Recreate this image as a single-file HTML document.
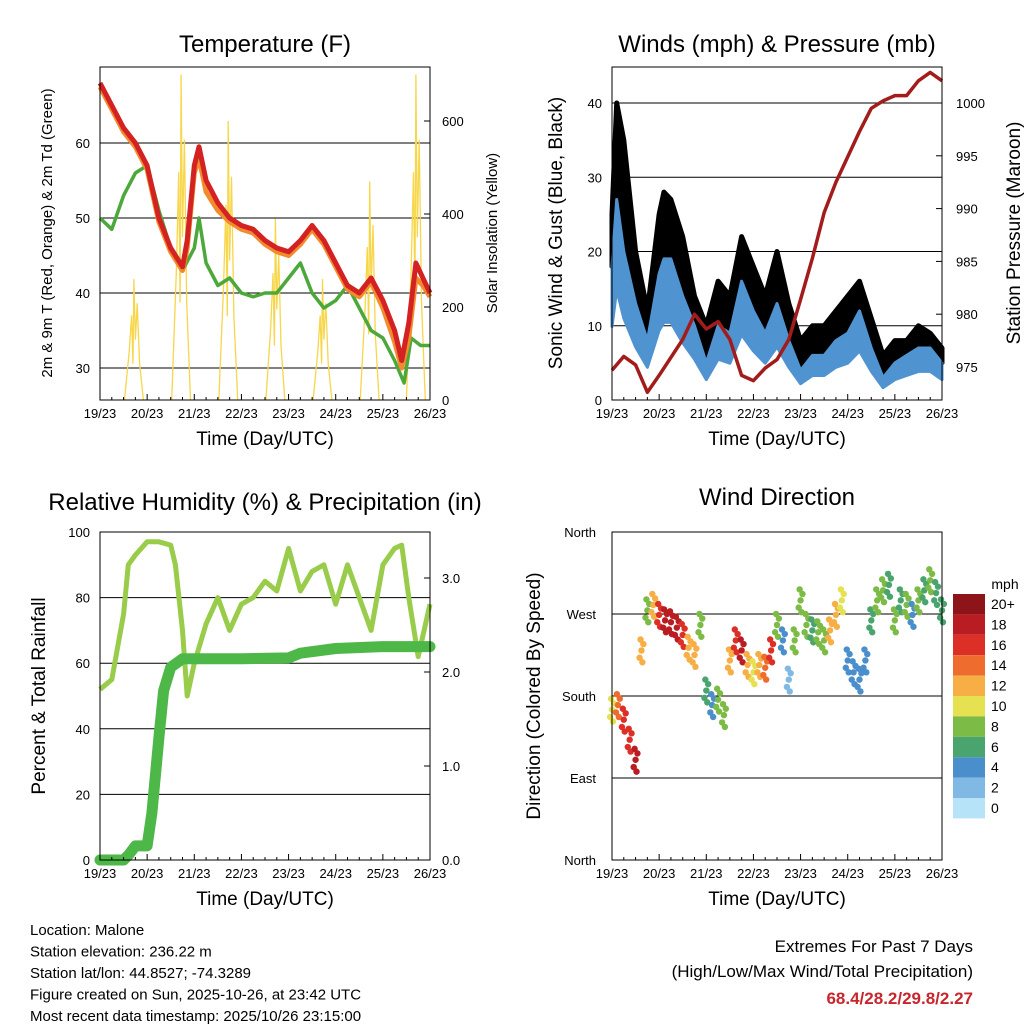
<!DOCTYPE html>
<html><head><meta charset="utf-8"><style>
body{margin:0;background:#fff;}
svg{font-family:"Liberation Sans",sans-serif;}
</style></head><body>
<svg id="s" width="1024" height="1024" xmlns="http://www.w3.org/2000/svg"></svg>
<script>
// ---- data ----
const dayTicks=["19/23","20/23","21/23","22/23","23/23","24/23","25/23","26/23"];
const tT=[0,0.25,0.5,0.75,1,1.25,1.5,1.75,1.85,2,2.1,2.25,2.5,2.75,3,3.25,3.5,3.75,4,4.25,4.5,4.75,5,5.25,5.5,5.75,6,6.25,6.4,6.55,6.7,6.85,7];
const tempRed=[68,65,62,60,57,50,46,43.5,47,57,59.5,55,52,50,49,48.5,47,46,45.5,47,49,47,44,41,40,42,39,35,31,36,44,42,40];
const tempOrange=[67.5,64.5,61.5,59.5,56.5,49.5,45.5,43,46,56,58,53.5,51,49.5,48.5,48,46.5,45.5,45,46.5,48.5,46.5,43.5,40.5,39.5,41.5,38,33.5,30,34,42,41,39.5];
const tD=[0,0.25,0.5,0.75,1,1.25,1.5,1.75,2,2.1,2.25,2.5,2.75,3,3.25,3.5,3.75,4,4.25,4.5,4.75,5,5.25,5.5,5.75,6,6.25,6.45,6.6,6.8,7];
const dewGreen=[50,48.5,53,56,57,51,46,43,46,50,44,41,42,40,39.5,40,40,42,44,40,38,39,41,38,35,34,31,28,34,33,33];
const solarDays=[0.72,1.72,2.72,3.72,4.72,5.72,6.7];
const solarPeaks=[260,700,600,390,260,470,700];
const tW=[0,0.1,0.25,0.5,0.75,1,1.1,1.25,1.5,1.75,2,2.25,2.5,2.75,3,3.25,3.5,3.75,4,4.25,4.5,4.75,5,5.25,5.5,5.75,6,6.25,6.5,6.75,7];
const gust=[25,40,35,20,12,25,28,27,22,14,10,16,14,22,18,14,20,13,8,10,10,12,14,16,11,6,8,8,10,9,7];
const wind=[18,27,20,13,8,17,19,19,14,10,5,10,9,16,12,9,13,8,4,6,6,8,9,12,7,3,5,6,7,7,5];
const tP=[0,0.25,0.5,0.75,1,1.5,1.75,2,2.25,2.5,2.75,3,3.25,3.5,3.75,4,4.25,4.5,4.75,5,5.25,5.5,5.75,6,6.25,6.5,6.75,7];
const pressure=[974.7,976,975.2,972.6,974.2,977.6,980,978.6,979.3,977.6,974.2,973.7,974.9,975.7,977.6,981.4,985.3,989.6,992.5,994.9,997.3,999.5,1000.2,1000.7,1000.7,1002.1,1002.9,1002.1];
const tRH=[0,0.25,0.5,0.6,0.75,1,1.25,1.5,1.6,1.75,1.85,2,2.25,2.5,2.75,3,3.25,3.5,3.75,4,4.25,4.5,4.75,5,5.25,5.5,5.75,6,6.25,6.4,6.55,6.75,7];
const rh=[52,55,75,90,93,97,97,96,90,70,50,60,72,80,70,78,80,85,82,95,82,88,90,78,90,80,70,90,95,96,80,62,78];
const tR=[0,0.5,0.6,0.75,1,1.1,1.25,1.35,1.5,1.75,2,3,4,4.25,5,6,7];
const rain=[0,0,0.05,0.15,0.15,0.5,1.3,1.8,2.05,2.14,2.14,2.14,2.15,2.2,2.25,2.27,2.27];
const dirDir=[165,170,154,132,110,230,274,280,269,263,261,255,247,233,225,258,186,170,176,159,219,241,230,214,206,214,211,230,258,241,198,241,285,258,252,250,241,252,269,285,219,206,198,219,263,285,296,302,263,285,280,269,285,296,307,293,274];
const dirSpeed=[10,14,16,16,18,12,8,12,16,18,18,18,16,12,12,8,6,4,8,8,12,16,18,12,10,12,14,16,8,4,2,8,8,8,6,8,8,12,12,10,4,4,4,4,6,8,8,6,8,6,8,4,8,6,8,6,6];
const cbLabels=["20+","18","16","14","12","10","8","6","4","2","0"];
const cbColors=["#8d1419","#b91c22","#dc3027","#ee6c2e","#f6ae45","#e6e150","#7cbb45","#4aa46e","#4a8fcb","#7fb9e4","#b6e3f7"];

const S=document.getElementById('s');
const NS="http://www.w3.org/2000/svg";
function el(tag,attrs,parent){const e=document.createElementNS(NS,tag);for(const k in attrs)e.setAttribute(k,attrs[k]);(parent||S).appendChild(e);return e;}
function txt(x,y,s,size,anchor,extra){const e=el('text',Object.assign({x:x,y:y,'font-size':size,'text-anchor':anchor||'middle',fill:'#000'},extra||{}));e.textContent=s;return e;}
function lin(d0,d1,p0,p1){return v=>p0+(v-d0)/(d1-d0)*(p1-p0);}
function frame(x0,x1,y0,y1){el('rect',{x:x0,y:y0,width:x1-x0,height:y1-y0,fill:'none',stroke:'#000','stroke-width':1});}
function xAxis(x0,x1,y1,title){
  const X=lin(0,7,x0,x1);
  dayTicks.forEach((l,i)=>{const x=X(i);
    el('line',{x1:x,x2:x,y1:y1,y2:y1-6,stroke:'#000'});
    for(let k=1;k<4;k++){const xx=X(i+k/4);if(i<7)el('line',{x1:xx,x2:xx,y1:y1,y2:y1-3,stroke:'#000'});}
    const t=txt(x,y1+18,l,13);});
  const t=txt((x0+x1)/2,y1+45,title,19);
  return X;
}
function path(pts,attrs){return el('path',Object.assign({d:'M'+pts.map(p=>p[0].toFixed(1)+','+p[1].toFixed(1)).join('L'),fill:'none'},attrs));}
function band(top,bot,attrs){const pts=top.concat(bot.slice().reverse());return el('path',Object.assign({d:'M'+pts.map(p=>p[0].toFixed(1)+','+p[1].toFixed(1)).join('L')+'Z'},attrs));}

// ===== Panel 1 Temperature =====
(function(){
  const x0=100,x1=430,y0=67,y1=400;
  const X=lin(0,7,x0,x1), Y=lin(30,60,368,143), Ys=lin(0,600,400,121);
  [30,40,50,60].forEach(v=>{el('line',{x1:x0,x2:x1,y1:Y(v),y2:Y(v),stroke:'#000','stroke-width':1});
    const t=txt(x0-10,Y(v)+5,String(v),13,'end');});
  [0,200,400,600].forEach(v=>{el('line',{x1:x1,x2:x1-6,y1:Ys(v),y2:Ys(v),stroke:'#000'});
    const t=txt(x1+12,Ys(v)+5,String(v),13,'start');});
  solarDays.forEach((d,i)=>{const p=solarPeaks[i];
    const pts=[[X(d-0.2),Ys(0)],[X(d-0.1),Ys(p*0.4)],[X(d-0.05),Ys(p*0.7)],[X(d-0.02),Ys(p*0.3)],[X(d),Ys(p)],[X(d+0.03),Ys(p*0.5)],[X(d+0.07),Ys(p*0.8)],[X(d+0.12),Ys(p*0.3)],[X(d+0.2),Ys(0)]];
    const e=path(pts,{stroke:'#f7d64a','stroke-width':1.3});
    });
  let e=path(tD.map((t,i)=>[X(t),Y(dewGreen[i])]),{stroke:'#4ca83a','stroke-width':3.5,'stroke-linejoin':'round'});
  
  e=path(tT.map((t,i)=>[X(t),Y(tempOrange[i])]),{stroke:'#f28a2e','stroke-width':5,'stroke-linejoin':'round'});
  
  e=path(tT.map((t,i)=>[X(t),Y(tempRed[i])]),{stroke:'#d42121','stroke-width':5,'stroke-linejoin':'round'});
  
  frame(x0,x1,y0,y1);
  xAxis(x0,x1,y1,'Time (Day/UTC)');
  let t=txt(265,52,'Temperature (F)',24);
  t=txt(0,0,'2m & 9m T (Red, Orange) & 2m Td (Green)',15,'middle',{transform:'translate(52,233) rotate(-90)'});
  t=txt(0,0,'Solar Insolation (Yellow)',15,'middle',{transform:'translate(497,233) rotate(-90)'});
})();

// ===== Panel 2 Winds =====
(function(){
  const x0=612,x1=942,y0=67,y1=400;
  const X=lin(0,7,x0,x1), Y=lin(0,40,400,103), Yp=lin(975,1000,367,103);
  [10,20,30,40].forEach(v=>el('line',{x1:x0,x2:x1,y1:Y(v),y2:Y(v),stroke:'#000'}));
  [0,10,20,30,40].forEach(v=>{const t=txt(x0-10,Y(v)+5,String(v),13,'end');});
  [975,980,985,990,995,1000].forEach(v=>{el('line',{x1:x1,x2:x1-6,y1:Yp(v),y2:Yp(v),stroke:'#000'});
    const t=txt(x1+14,Yp(v)+5,String(v),13,'start');});
  let e=band(tW.map((t,i)=>[X(t),Y(gust[i])]),tW.map((t,i)=>[X(t),Y(wind[i])]),{fill:'#000',stroke:'#000','stroke-width':5,'stroke-linejoin':'round'});
  
  e=band(tW.map((t,i)=>[X(t),Y(wind[i])]),tW.map((t,i)=>[X(t),Y(wind[i]*0.55)]),{fill:'#4f93d1',stroke:'#4f93d1','stroke-width':3,'stroke-linejoin':'round'});
  
  e=path(tP.map((t,i)=>[X(t),Yp(pressure[i])]),{stroke:'#a31c1c','stroke-width':3.5,'stroke-linejoin':'round'});
  
  frame(x0,x1,y0,y1);
  xAxis(x0,x1,y1,'Time (Day/UTC)');
  let t=txt(777,52,'Winds (mph) & Pressure (mb)',24);
  t=txt(0,0,'Sonic Wind & Gust (Blue, Black)',19,'middle',{transform:'translate(562,233) rotate(-90)'});
  t=txt(0,0,'Station Pressure (Maroon)',19,'middle',{transform:'translate(1020,233) rotate(-90)'});
})();

// ===== Panel 3 RH & precip =====
(function(){
  const x0=100,x1=430,y0=532,y1=860;
  const X=lin(0,7,x0,x1), Y=lin(0,100,860,532), Yr=lin(0,3,860,578);
  [20,40,60,80].forEach(v=>el('line',{x1:x0,x2:x1,y1:Y(v),y2:Y(v),stroke:'#000'}));
  [0,20,40,60,80,100].forEach(v=>{const t=txt(x0-10,Y(v)+5,String(v),13,'end');});
  [0,1,2,3].forEach(v=>{el('line',{x1:x1,x2:x1-6,y1:Yr(v),y2:Yr(v),stroke:'#000'});
    const t=txt(x1+12,Yr(v)+5,v.toFixed(1),13,'start');});
  let e=path(tRH.map((t,i)=>[X(t),Y(rh[i])]),{stroke:'#98cc4a','stroke-width':5,'stroke-linejoin':'round'});
  
  e=path(tR.map((t,i)=>[X(t),Yr(rain[i])]),{stroke:'#4db848','stroke-width':11,'stroke-linejoin':'round','stroke-linecap':'round'});
  
  frame(x0,x1,y0,y1);
  xAxis(x0,x1,y1,'Time (Day/UTC)');
  let t=txt(265,510,'Relative Humidity (%) & Precipitation (in)',24);
  t=txt(0,0,'Percent & Total Rainfall',19,'middle',{transform:'translate(45,696) rotate(-90)'});
})();

// ===== Panel 4 Wind direction =====
(function(){
  const x0=612,x1=942,y0=532,y1=860;
  const X=lin(0,7,x0,x1), Y=lin(0,360,860,532);
  const dl=["North","East","South","West","North"];
  [0,90,180,270,360].forEach((v,i)=>{if(v>0&&v<360)el('line',{x1:x0,x2:x1,y1:Y(v),y2:Y(v),stroke:'#000'});
    const t=txt(x0-16,Y(v)+5,dl[i],13,'end');});
  function col(s){let i=Math.min(10,Math.round(s/2));return cbColors[10-i];}
  const offs=[[-0.04,-8],[0,0],[0.04,7],[-0.02,12],[0.02,-13]];
  dirDir.forEach((d,i)=>{const tt=i*0.125;
    offs.forEach(o=>{
      const c=el('circle',{cx:X(tt+o[0]),cy:Y(d+o[1]),r:3.2,fill:col(dirSpeed[i])});
      
      
    });});
  frame(x0,x1,y0,y1);
  xAxis(x0,x1,y1,'Time (Day/UTC)');
  let t=txt(777,505,'Wind Direction',24);
  t=txt(0,0,'Direction (Colored By Speed)',19,'middle',{transform:'translate(540,696) rotate(-90)'});
  t=txt(1005,589,'mph',14);
  cbColors.forEach((c,i)=>{const r=el('rect',{x:953,y:594+i*20.4,width:32,height:20.4,fill:c});
    
    const l=txt(991,609+i*20.4,cbLabels[i],14,'start');});
})();

["Location: Malone","Station elevation: 236.22 m","Station lat/lon: 44.8527; -74.3289","Figure created on Sun, 2025-10-26, at 23:42 UTC","Most recent data timestamp: 2025/10/26 23:15:00"].forEach((s,i)=>{
  const t=txt(30,935+i*21.5,s,15,'start');});
let t=txt(973,952,'Extremes For Past 7 Days',17,'end');
t=txt(973,977,'(High/Low/Max Wind/Total Precipitation)',17,'end');
t=txt(973,1004,'68.4/28.2/29.8/2.27',17,'end',{fill:'#c8262c','font-weight':'bold'});
</script>
</body></html>
